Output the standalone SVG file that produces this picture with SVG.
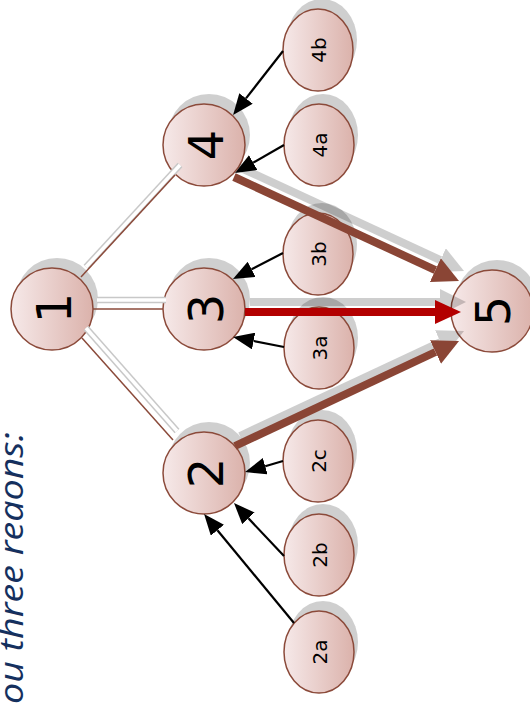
<svg xmlns="http://www.w3.org/2000/svg" width="530" height="705" viewBox="0 0 530 705">
<defs>
<linearGradient id="nodeFill" x1="0" y1="0" x2="1" y2="0">
<stop offset="0" stop-color="#f6e9e9"/>
<stop offset="1" stop-color="#dbb2ab"/>
</linearGradient>
<marker id="mBrown" markerUnits="userSpaceOnUse" markerWidth="26" markerHeight="26" refX="0" refY="13" orient="auto"><path d="M0,0 L26,13 L0,26 z" fill="#8a4535"/></marker>
<marker id="mRed" markerUnits="userSpaceOnUse" markerWidth="26" markerHeight="26" refX="0" refY="13" orient="auto"><path d="M0,1 L26,13 L0,25 z" fill="#b30000"/></marker>
<marker id="mShadow" markerUnits="userSpaceOnUse" markerWidth="26" markerHeight="26" refX="0" refY="13" orient="auto"><path d="M0,0 L26,13 L0,26 z" fill="#000"/></marker>
<marker id="mBlack" markerUnits="userSpaceOnUse" markerWidth="21" markerHeight="17" refX="0" refY="8.5" orient="auto"><path d="M0,0 L21,8.5 L0,17 z" fill="#000"/></marker>
</defs>
<style>
.shadow{fill:#000;opacity:0.19}
.node{fill:url(#nodeFill);stroke:#8b4a3a;stroke-width:1.5}
.big{font-family:"DejaVu Sans",sans-serif;font-size:48px;fill:#000;text-anchor:middle}
.small{font-family:"DejaVu Sans",sans-serif;font-size:20px;fill:#000;text-anchor:middle}
.thinShadow{stroke:#c8c8c8;stroke-width:6.5;fill:none}
.thinGap{stroke:#fff;stroke-width:3.5;fill:none}
.thin{stroke:#8b4a3a;stroke-width:1.5;fill:none}
.thick{stroke:#8a4535;stroke-width:8;fill:none}
.red{stroke:#b30000;stroke-width:8;fill:none}
.sh{stroke:#000;stroke-width:8;fill:none}
.arrow{stroke:#000;stroke-width:2.2;fill:none;marker-end:url(#mBlack)}
.caption{font-family:"Open Sans","DejaVu Sans",sans-serif;font-style:italic;font-size:33px;fill:#15305e}
</style>

<text class="caption" transform="translate(22.5,704) rotate(-90)" x="0" y="0" textLength="272" lengthAdjust="spacingAndGlyphs">ou three reaons:</text>

<g id="node-1"><circle class="shadow" cx="57" cy="299" r="41"/><circle class="node" cx="52" cy="309" r="41"/><text class="big" transform="translate(53,308) rotate(-90)" y="17.5">1</text></g>
<g id="node-2"><circle class="shadow" cx="209" cy="463" r="41"/><circle class="node" cx="204" cy="473" r="41"/><text class="big" transform="translate(205,473) rotate(-90)" y="17.5">2</text></g>
<g id="node-3"><circle class="shadow" cx="209" cy="299" r="41"/><circle class="node" cx="204" cy="309" r="41"/><text class="big" transform="translate(205,309) rotate(-90)" y="17.5">3</text></g>
<g id="node-4"><circle class="shadow" cx="209" cy="135" r="41"/><circle class="node" cx="204" cy="145" r="41"/><text class="big" transform="translate(205,145) rotate(-90)" y="17.5">4</text></g>
<g id="node-5"><circle class="shadow" cx="497" cy="301" r="41"/><circle class="node" cx="492" cy="311" r="41"/><text class="big" transform="translate(492,311) rotate(-90)" y="17.5">5</text></g>

<g id="node-4b"><ellipse class="shadow" cx="322" cy="40" rx="35" ry="41"/><ellipse class="node" cx="318" cy="50" rx="35" ry="41"/><text class="small" transform="translate(319,50) rotate(-90)" y="7.3">4b</text></g>
<g id="node-4a"><ellipse class="shadow" cx="323" cy="135" rx="35" ry="41"/><ellipse class="node" cx="319" cy="145" rx="35" ry="41"/><text class="small" transform="translate(320,145) rotate(-90)" y="7.3">4a</text></g>
<g id="node-3b"><ellipse class="shadow" cx="322" cy="244" rx="35" ry="41"/><ellipse class="node" cx="318" cy="254" rx="35" ry="41"/><text class="small" transform="translate(319,254) rotate(-90)" y="7.3">3b</text></g>
<g id="node-3a"><ellipse class="shadow" cx="323" cy="338" rx="35" ry="41"/><ellipse class="node" cx="319" cy="348" rx="35" ry="41"/><text class="small" transform="translate(320,348) rotate(-90)" y="7.3">3a</text></g>
<g id="node-2c"><ellipse class="shadow" cx="322" cy="451" rx="35" ry="41"/><ellipse class="node" cx="318" cy="461" rx="35" ry="41"/><text class="small" transform="translate(319,461) rotate(-90)" y="7.3">2c</text></g>
<g id="node-2b"><ellipse class="shadow" cx="323" cy="545" rx="35" ry="41"/><ellipse class="node" cx="319" cy="555" rx="35" ry="41"/><text class="small" transform="translate(320,555) rotate(-90)" y="7.3">2b</text></g>
<g id="node-2a"><ellipse class="shadow" cx="323" cy="642" rx="35" ry="41"/><ellipse class="node" cx="319" cy="652" rx="35" ry="41"/><text class="small" transform="translate(320,652) rotate(-90)" y="7.3">2a</text></g>

<g id="connectors">
<g id="edge-1-4"><line class="thinShadow" x1="86" y1="267" x2="180" y2="165"/><line class="thinGap" x1="86" y1="267" x2="180" y2="165"/><line class="thin" x1="81" y1="277" x2="175" y2="175"/></g>
<g id="edge-1-3"><line class="thinShadow" x1="97" y1="300" x2="166" y2="300"/><line class="thinGap" x1="97" y1="300" x2="166" y2="300"/><line class="thin" x1="93" y1="309" x2="163" y2="309"/></g>
<g id="edge-1-2"><line class="thinShadow" x1="86" y1="328" x2="177" y2="431"/><line class="thinGap" x1="86" y1="328" x2="177" y2="431"/><line class="thin" x1="82" y1="338" x2="173" y2="440"/></g>
<g id="edge-shadows" opacity="0.19">
<line class="sh" x1="239" y1="167" x2="440.4" y2="260.1" marker-end="url(#mShadow)"/>
<line class="sh" x1="250" y1="302" x2="440" y2="302" marker-end="url(#mShadow)"/>
<line class="sh" x1="240" y1="436" x2="440.5" y2="342" marker-end="url(#mShadow)"/>
</g>
<line id="edge-4-5" class="thick" x1="234" y1="177" x2="435.4" y2="270.1" marker-end="url(#mBrown)"/>
<line id="edge-3-5" class="red" x1="245" y1="312" x2="435" y2="312" marker-end="url(#mRed)"/>
<line id="edge-2-5" class="thick" x1="235" y1="446" x2="435.5" y2="352" marker-end="url(#mBrown)"/>
<line id="edge-4b-4" class="arrow" x1="283" y1="51" x2="246" y2="98.4"/>
<line id="edge-4a-4" class="arrow" x1="284" y1="145" x2="253.2" y2="162.6"/>
<line id="edge-3b-3" class="arrow" x1="283" y1="253" x2="251.6" y2="269.3"/>
<line id="edge-3a-3" class="arrow" x1="284" y1="347" x2="253.6" y2="341"/>
<line id="edge-2c-2" class="arrow" x1="283" y1="461" x2="265.2" y2="466.2"/>
<line id="edge-2b-2" class="arrow" x1="284" y1="556" x2="248.4" y2="518.3"/>
<line id="edge-2a-2" class="arrow" x1="294" y1="623" x2="217.4" y2="530.2"/>
</g>
</svg>
